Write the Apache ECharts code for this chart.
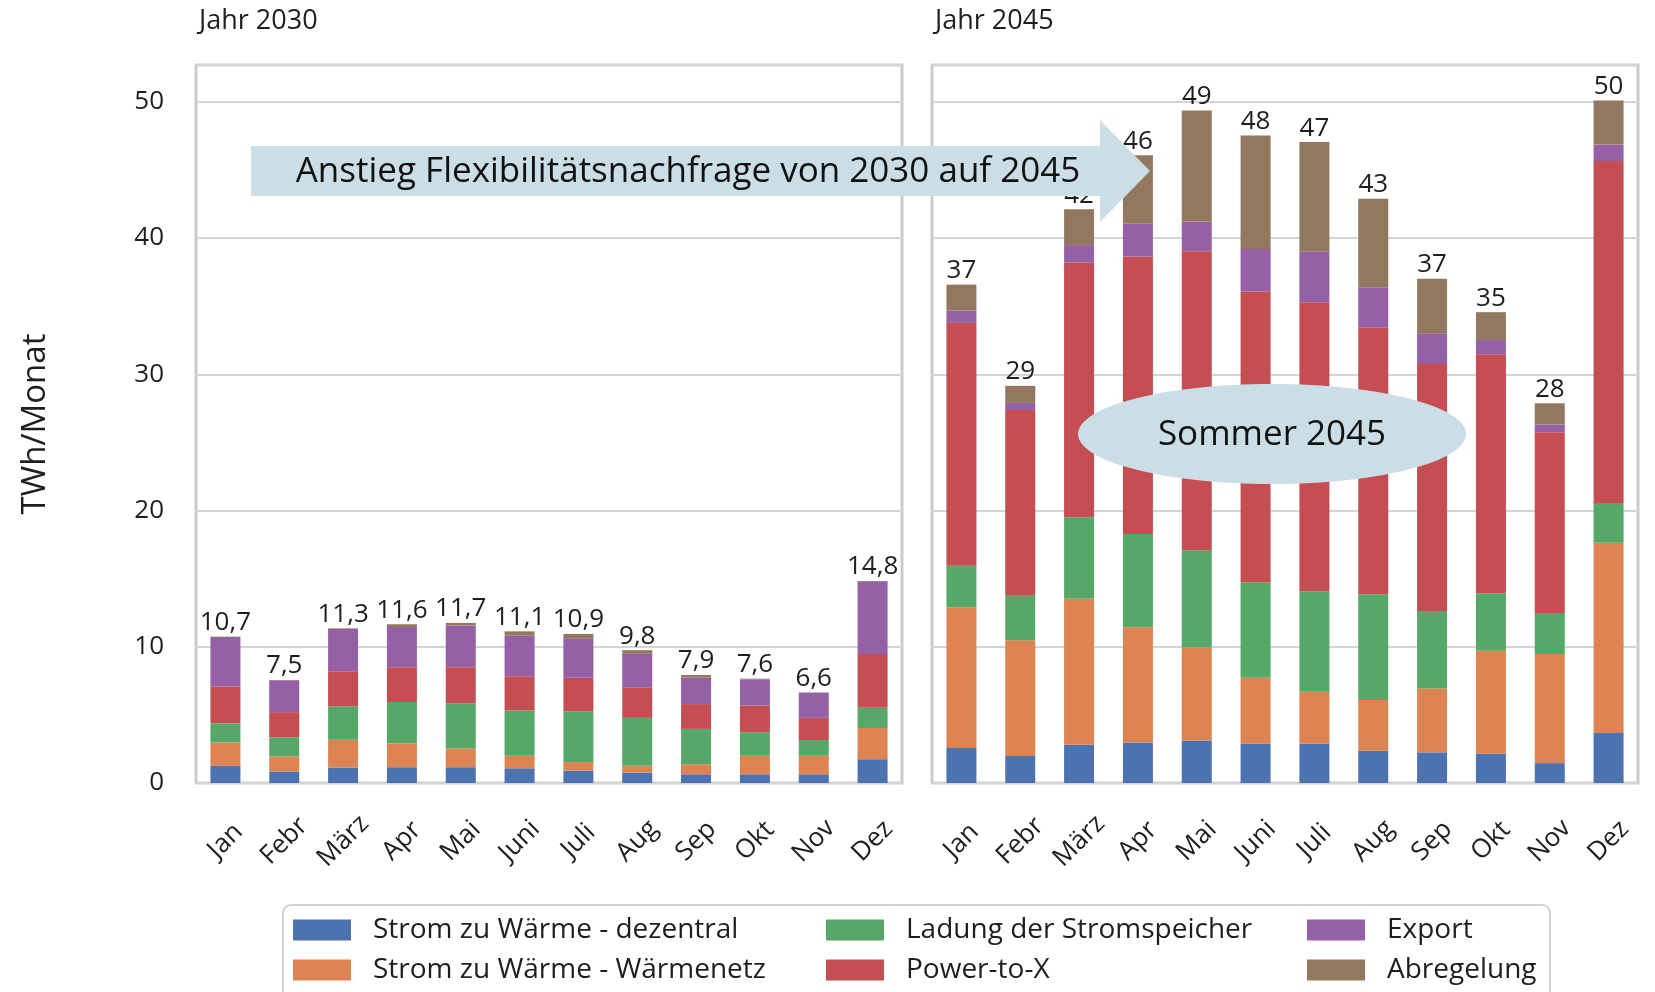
<!DOCTYPE html>
<html>
<head>
<meta charset="utf-8">
<title>Flexibilitätsnachfrage 2030 / 2045</title>
<script src="https://cdn.jsdelivr.net/npm/echarts@6/dist/echarts.min.js"></script>
<style>
  html, body { margin: 0; padding: 0; background: #fff; }
  #chart { width: 1655px; height: 992px; }
</style>
</head>
<body>
<div id="chart"></div>
<script>
// Monatliche Flexibilitätsnachfrage in TWh, 2030 vs. 2045 (gestapelt)
var months = ["Jan", "Febr", "März", "Apr", "Mai", "Juni", "Juli", "Aug", "Sep", "Okt", "Nov", "Dez"];
var seriesNames = [
  "Strom zu Wärme - dezentral",
  "Strom zu Wärme - Wärmenetz",
  "Ladung der Stromspeicher",
  "Power-to-X",
  "Export",
  "Abregelung"
];
var colors = ["#4c72b0", "#dd8452", "#55a868", "#c44e52", "#9660a6", "#937860"];

// Jahr 2030
var dezentral2030 = [1.26, 0.84, 1.13, 1.16, 1.16, 1.08, 0.91, 0.76, 0.64, 0.64, 0.64, 1.75];
var waermenetz2030 = [1.72, 1.11, 2.05, 1.75, 1.38, 0.92, 0.62, 0.50, 0.74, 1.36, 1.36, 2.29];
var speicher2030 = [1.40, 1.40, 2.46, 3.03, 3.30, 3.32, 3.72, 3.52, 2.59, 1.72, 1.15, 1.48];
var ptx2030 = [2.71, 1.85, 2.56, 2.56, 2.66, 2.51, 2.48, 2.22, 1.82, 1.97, 1.63, 3.94];
var export2030 = [3.62, 2.34, 3.10, 2.95, 3.05, 2.98, 2.89, 2.48, 1.94, 1.92, 1.85, 5.34];
var abregelung2030 = [0.03, 0.02, 0.05, 0.20, 0.20, 0.32, 0.32, 0.27, 0.20, 0.05, 0.02, 0.03];
var totals2030 = ["10,7", "7,5", "11,3", "11,6", "11,7", "11,1", "10,9", "9,8", "7,9", "7,6", "6,6", "14,8"];

// Jahr 2045
var dezentral2045 = [2.56, 1.98, 2.81, 2.98, 3.12, 2.88, 2.88, 2.36, 2.25, 2.15, 1.46, 3.67];
var waermenetz2045 = [10.34, 8.49, 10.71, 8.46, 6.83, 4.85, 3.81, 3.74, 4.68, 7.56, 8.00, 13.97];
var speicher2045 = [3.05, 3.33, 5.99, 6.83, 7.14, 7.00, 7.38, 7.76, 5.69, 4.22, 3.02, 2.91];
var ptx2045 = [17.82, 13.58, 18.69, 20.38, 21.94, 21.35, 21.22, 19.55, 18.13, 17.54, 13.27, 25.10];
var export2045 = [0.90, 0.52, 1.28, 2.39, 2.18, 3.12, 3.70, 2.98, 2.25, 1.04, 0.56, 1.21];
var abregelung2045 = [1.91, 1.25, 2.63, 5.03, 8.15, 8.32, 8.05, 6.49, 4.02, 2.05, 1.56, 3.23];
var totals2045 = ["37", "29", "42", "46", "49", "48", "47", "43", "37", "35", "28", "50"];

var yTicks = [0, 10, 20, 30, 40, 50];

(function () {
  var FONT = "Open Sans";
  var TEXT = "#1e1e1e";
  var el = document.getElementById("chart");
  var chart = echarts.init(el, null, { renderer: "canvas" });

  var data2030 = [dezentral2030, waermenetz2030, speicher2030, ptx2030, export2030, abregelung2030];
  var data2045 = [dezentral2045, waermenetz2045, speicher2045, ptx2045, export2045, abregelung2045];

  function buildSeries(dataSets, idx, totals) {
    return dataSets.map(function (vals, i) {
      var s = {
        name: seriesNames[i],
        type: "bar",
        stack: "s" + idx,
        xAxisIndex: idx,
        yAxisIndex: idx,
        barWidth: "51%",
        itemStyle: { color: colors[i] },
        emphasis: { disabled: true },
        data: vals
      };
      if (i === dataSets.length - 1) {
        s.label = {
          show: true,
          position: "top",
          distance: 1,
          fontFamily: FONT,
          fontSize: 26,
          color: TEXT,
          formatter: function (p) { return totals[p.dataIndex]; }
        };
      }
      return s;
    });
  }

  function xAxis(idx) {
    return {
      type: "category",
      gridIndex: idx,
      data: months,
      axisLine: { show: false },
      axisTick: { show: false },
      axisLabel: {
        rotate: 45,
        align: "center",
        verticalAlign: "middle",
        margin: 58,
        fontFamily: FONT,
        fontSize: 26,
        color: TEXT
      }
    };
  }

  function yAxis(idx) {
    return {
      type: "value",
      gridIndex: idx,
      min: 0,
      max: 52.7,
      interval: 10,
      axisLine: { show: false },
      axisTick: { show: false },
      splitLine: { lineStyle: { color: "#d4d4d4", width: 2 } },
      axisLabel: {
        show: idx === 0,
        margin: 32,
        fontFamily: FONT,
        fontSize: 26,
        color: TEXT,
        formatter: function (v) { return yTicks.indexOf(v) >= 0 ? String(v) : ""; }
      }
    };
  }

  function legend(left, names) {
    return {
      orient: "vertical",
      left: left,
      top: 916,
      padding: 0,
      itemWidth: 58,
      itemHeight: 21,
      itemGap: 12,
      icon: "rect",
      selectedMode: false,
      data: names,
      textStyle: {
        fontFamily: FONT,
        fontSize: 28,
        color: TEXT,
        padding: [0, 0, 0, 17]
      }
    };
  }

  var boxFill = "#cbdde5";

  chart.setOption({
    backgroundColor: "#ffffff",
    animation: false,
    textStyle: { fontFamily: FONT },
    title: [
      { text: "Jahr 2030", left: 194, top: 3, textStyle: { fontFamily: FONT, fontSize: 27, fontWeight: "normal", color: TEXT } },
      { text: "Jahr 2045", left: 930, top: 3, textStyle: { fontFamily: FONT, fontSize: 27, fontWeight: "normal", color: TEXT } }
    ],
    grid: [
      { left: 196, top: 65, width: 706, height: 718, show: true, borderColor: "#cccccc", borderWidth: 3, backgroundColor: "transparent" },
      { left: 932, top: 65, width: 706, height: 718, show: true, borderColor: "#cccccc", borderWidth: 3, backgroundColor: "transparent" }
    ],
    xAxis: [xAxis(0), xAxis(1)],
    yAxis: [yAxis(0), yAxis(1)],
    legend: [
      legend(293, [seriesNames[0], seriesNames[1]]),
      legend(826, [seriesNames[2], seriesNames[3]]),
      legend(1307, [seriesNames[4], seriesNames[5]])
    ],
    series: buildSeries(data2030, 0, totals2030).concat(buildSeries(data2045, 1, totals2045)),
    graphic: [
      {
        type: "rect",
        z: 0,
        shape: { x: 283, y: 905, width: 1267, height: 120, r: 8 },
        style: { fill: "#ffffff", stroke: "#d0d0d0", lineWidth: 2 }
      },
      {
        type: "text",
        x: 36,
        y: 424,
        rotation: Math.PI / 2,
        style: {
          text: "TWh/Monat",
          fontFamily: FONT,
          fontSize: 33,
          fill: TEXT,
          align: "center",
          verticalAlign: "middle"
        }
      },
      {
        type: "polygon",
        z: 100,
        shape: {
          points: [[251, 146], [1100, 146], [1100, 120], [1150, 171], [1100, 222], [1100, 196], [251, 196]]
        },
        style: { fill: boxFill }
      },
      {
        type: "text",
        z: 101,
        x: 688,
        y: 172,
        style: {
          text: "Anstieg Flexibilitätsnachfrage von 2030 auf 2045",
          fontFamily: FONT,
          fontSize: 35,
          fill: "#111111",
          align: "center",
          verticalAlign: "middle"
        }
      },
      {
        type: "ellipse",
        z: 100,
        shape: { cx: 1272, cy: 434, rx: 194, ry: 50 },
        style: { fill: boxFill }
      },
      {
        type: "text",
        z: 101,
        x: 1272,
        y: 435,
        style: {
          text: "Sommer 2045",
          fontFamily: FONT,
          fontSize: 35,
          fill: "#111111",
          align: "center",
          verticalAlign: "middle"
        }
      }
    ]
  });

  window.addEventListener("resize", function () { chart.resize(); });
})();
</script>
</body>
</html>
